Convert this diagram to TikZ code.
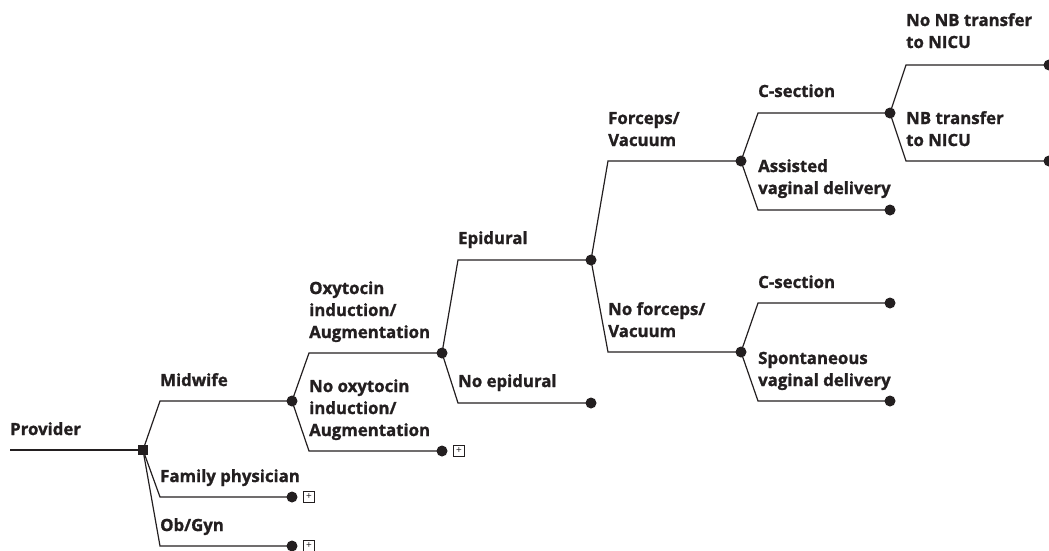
\documentclass[tikz,border=0pt]{standalone}
\usepackage{fontspec}
\setmainfont{Open Sans}[BoldFeatures={FakeBold=1.2}]
\usetikzlibrary{backgrounds}
\definecolor{ink}{HTML}{231F20}
\begin{document}
\begin{tikzpicture}[x=1pt,y=-1pt,
  edge/.style={draw=ink, line width=1.2pt},
  lbl/.style={anchor=base west, inner sep=0pt, align=left, text=ink,
    font=\bfseries\fontsize{16.8}{22}\selectfont},
  chance/.style={circle, fill=ink, minimum size=11pt, inner sep=0pt},
  decision/.style={rectangle, fill=ink, minimum size=10.5pt, inner sep=0pt},
  plusbox/.style={draw=ink, line width=0.7pt, minimum size=10.5pt, inner sep=0pt,
    text=ink, font=\fontsize{10}{10}\selectfont}]
\useasboundingbox (0,0) rectangle (1049,550);

% nodes
\coordinate (start) at (10,450);
\node[decision] (dec) at (143,450) {};
\node[chance] (mw) at (292,401) {};
\node[chance] (fp) at (292,497) {};
\node[chance] (og) at (292,546) {};
\node[plusbox] (fpb) at (309,497) {+};
\node[plusbox] (ogb) at (309,546) {+};
\node[chance] (oxy) at (442,353) {};
\node[chance] (nox) at (442,451) {};
\node[plusbox] (noxb) at (459,451) {+};
\node[chance] (epi) at (591,260) {};
\node[chance] (nepi) at (591,403) {};
\node[chance] (fv) at (741,161) {};
\node[chance] (nfv) at (741,352) {};
\node[chance] (cs1) at (890,113) {};
\node[chance] (avd) at (890,210) {};
\node[chance] (cs2) at (890,303) {};
\node[chance] (svd) at (890,401) {};
\node[chance] (nonb) at (1049,65) {};
\node[chance] (nb) at (1049,161) {};

% bend points
\coordinate (bmw) at (160,401);
\coordinate (bfp) at (160,497);
\coordinate (bog) at (160,546);
\coordinate (boxy) at (309,353);
\coordinate (bnox) at (309,451);
\coordinate (bepi) at (458,260);
\coordinate (bnepi) at (458,403);
\coordinate (bfv) at (608,161);
\coordinate (bnfv) at (608,352);
\coordinate (bcs1) at (758,113);
\coordinate (bavd) at (758,210);
\coordinate (bcs2) at (758,303);
\coordinate (bsvd) at (758,401);
\coordinate (bnonb) at (906,65);
\coordinate (bnb) at (906,161);

\begin{pgfonlayer}{background}
\draw[edge] (start) -- (dec);
\draw[edge] (dec.center) -- (bmw) -- (mw.center);
\draw[edge] (dec.center) -- (bfp) -- (fp.center);
\draw[edge] (dec.center) -- (bog) -- (og.center);
\draw[edge] (mw.center) -- (boxy) -- (oxy.center);
\draw[edge] (mw.center) -- (bnox) -- (nox.center);
\draw[edge] (oxy.center) -- (bepi) -- (epi.center);
\draw[edge] (oxy.center) -- (bnepi) -- (nepi.center);
\draw[edge] (epi.center) -- (bfv) -- (fv.center);
\draw[edge] (epi.center) -- (bnfv) -- (nfv.center);
\draw[edge] (fv.center) -- (bcs1) -- (cs1.center);
\draw[edge] (fv.center) -- (bavd) -- (avd.center);
\draw[edge] (nfv.center) -- (bcs2) -- (cs2.center);
\draw[edge] (nfv.center) -- (bsvd) -- (svd.center);
\draw[edge] (cs1.center) -- (bnonb) -- (nonb.center);
\draw[edge] (cs1.center) -- (bnb) -- (nb.center);
\end{pgfonlayer}

% labels (anchor = baseline of last line)
\node[lbl] (tprov) at (10,435) {Provider};
\node[lbl] (tmw) at (160,386) {Midwife};
\node[lbl] (tfp) at (160,482) {Family physician};
\node[lbl] (tog) at (160,531) {Ob/Gyn};
\node[lbl] (toxy) at (309,338) {Oxytocin\\induction/\\Augmentation};
\node[lbl] (tnox) at (309,436) {No oxytocin\\induction/\\Augmentation};
\node[lbl] (tepi) at (458,244) {Epidural};
\node[lbl] (tnepi) at (458,387) {No epidural};
\node[lbl] (tfv) at (608,146) {Forceps/\\Vacuum};
\node[lbl] (tnfv) at (608,337) {No forceps/\\Vacuum};
\node[lbl] (tcs1) at (758,97) {C-section};
\node[lbl] (tavd) at (758,194) {Assisted\\vaginal delivery};
\node[lbl] (tcs2) at (758,288) {C-section};
\node[lbl] (tsvd) at (758,386) {Spontaneous\\vaginal delivery};
\node[lbl] (tnonb) at (906,48) {No NB transfer\\to NICU};
\node[lbl] (tnb) at (906,146) {NB transfer\\to NICU};
\end{tikzpicture}
\end{document}
